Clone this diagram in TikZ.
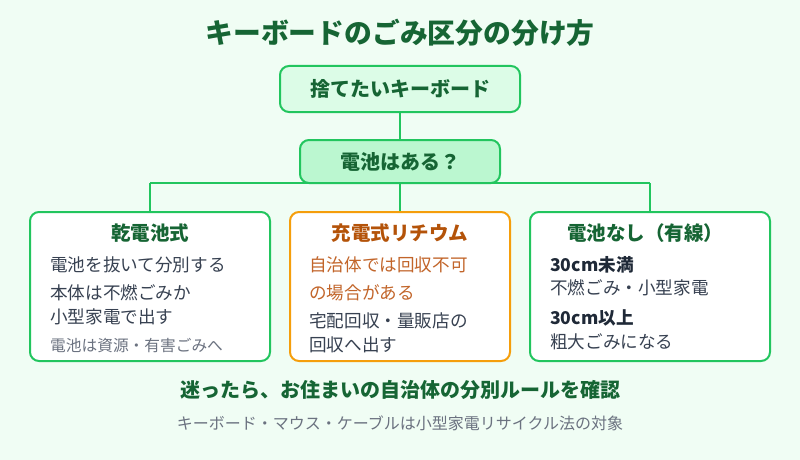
\documentclass[tikz,border=0pt]{standalone}
\usepackage{fontspec}
\setmainfont{Noto Sans CJK JP}
\usetikzlibrary{positioning}
\definecolor{bgc}{HTML}{F0FDF4}
\definecolor{dkgreen}{HTML}{166534}
\definecolor{strokeg}{HTML}{22C55E}
\definecolor{fillone}{HTML}{DCFCE7}
\definecolor{filltwo}{HTML}{BBF7D0}
\definecolor{orstroke}{HTML}{F59E0B}
\definecolor{ortitle}{HTML}{B45309}
\definecolor{ortext}{HTML}{C2652A}
\definecolor{bodyc}{HTML}{374151}
\definecolor{grayc}{HTML}{6B7280}
\definecolor{boldc}{HTML}{1F2937}
\tikzset{
  pbox/.style={draw=strokeg, line width=2pt, rounded corners=9pt},
  conn/.style={draw=strokeg, line width=2.5pt},
  ttl/.style={font=\fontsize{19.5}{22}\selectfont\bfseries, text=dkgreen, anchor=center},
  body/.style={font=\fontsize{17.6}{20}\selectfont, text=bodyc, anchor=west, inner sep=0pt},
  small/.style={font=\fontsize{15.7}{18}\selectfont, text=grayc, anchor=west, inner sep=0pt},
  bbody/.style={font=\fontsize{17.6}{20}\selectfont\bfseries, text=boldc, anchor=west, inner sep=0pt},
}
\begin{document}
\begin{tikzpicture}[x=1pt,y=-1pt]
\fill[bgc] (0,0) rectangle (800,460);
\useasboundingbox (0,0) rectangle (800,460);

\node[font=\fontsize{27.8}{30}\selectfont\bfseries, text=dkgreen] (title) at (400,33) {キーボードのごみ区分の分け方};

\node[pbox, fill=fillone, minimum width=240pt, minimum height=46pt, font=\fontsize{20}{22}\selectfont\bfseries, text=dkgreen] (start) at (400,89) {捨てたいキーボード};
\node[pbox, fill=filltwo, minimum width=200pt, minimum height=43pt, font=\fontsize{20}{22}\selectfont\bfseries, text=dkgreen] (q) at (400,161.5) {電池はある？};

\node[pbox, fill=white, minimum width=240pt, minimum height=149pt] (b1) at (150,286.5) {};
\node[pbox, draw=orstroke, fill=white, minimum width=220pt, minimum height=149pt] (b2) at (400,286.5) {};
\node[pbox, fill=white, minimum width=240pt, minimum height=149pt] (b3) at (650,286.5) {};

\coordinate (hl) at (150,183);
\coordinate (hr) at (650,183);
\draw[conn] (start.south) -- (q.north);
\draw[conn] (hl) -- (hr);
\draw[conn] (hl) -- (b1.north);
\draw[conn] (q.south) -- (b2.north);
\draw[conn] (hr) -- (b3.north);

% box 1
\node[ttl] (t1) at (150,233) {乾電池式};
\node[body] (l11) at (50,265) {電池を抜いて分別する};
\node[body] (l12) at (50,293) {本体は不燃ごみか};
\node[body] (l13) at (50,317) {小型家電で出す};
\node[small] (l14) at (50,346) {電池は資源・有害ごみへ};

% box 2
\node[ttl, text=ortitle] (t2) at (400,233) {充電式リチウム};
\node[body, text=ortext] (l21) at (309,265) {自治体では回収不可};
\node[body, text=ortext] (l22) at (309,293) {の場合がある};
\node[body] (l23) at (309,321) {宅配回収・量販店の};
\node[body] (l24) at (309,345) {回収へ出す};

% box 3
\node[ttl] (t3) at (645,233) {電池なし（有線）};
\node[bbody] (l31) at (550,265) {30cm未満};
\node[body] (l32) at (550,288) {不燃ごみ・小型家電};
\node[bbody] (l33) at (550,318) {30cm以上};
\node[body] (l34) at (550,342) {粗大ごみになる};

\node[font=\fontsize{20}{23}\selectfont\bfseries, text=dkgreen] (foot) at (400,390) {迷ったら、お住まいの自治体の分別ルールを確認};
\node[font=\fontsize{16}{19}\selectfont, text=grayc] (note) at (400,423) {キーボード・マウス・ケーブルは小型家電リサイクル法の対象};
\end{tikzpicture}
\end{document}
